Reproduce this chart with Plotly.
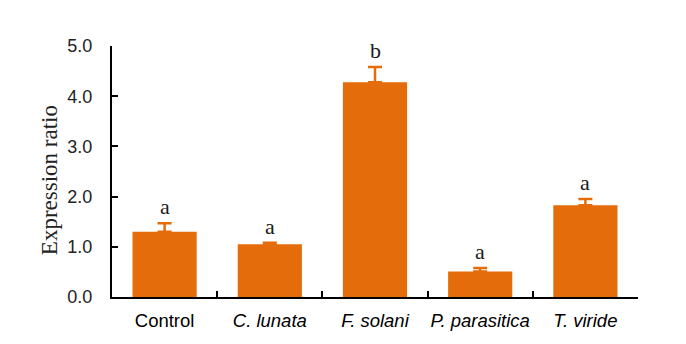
import plotly.graph_objects as go

categories = ["Control", "C. lunata", "F. solani", "P. parasitica", "T. viride"]
tick_labels = ["Control", "<i>C. lunata</i>", "<i>F. solani</i>", "<i>P. parasitica</i>", "<i>T. viride</i>"]
values = [1.30, 1.05, 4.28, 0.51, 1.83]
errors = [0.17, 0.03, 0.30, 0.07, 0.12]
letters = ["a", "a", "b", "a", "a"]
y_ticks = [0, 1, 2, 3, 4, 5]

orange = "#E46C0A"

fig = go.Figure()
fig.add_trace(go.Bar(
    x=categories, y=values,
    marker=dict(color=orange, line=dict(width=0)),
    width=0.61,
    error_y=dict(type="data", array=errors, symmetric=False, arrayminus=[0]*len(errors),
                 color=orange, thickness=2.5, width=7),
))

for c, v, e, l in zip(categories, values, errors, letters):
    fig.add_annotation(x=c, y=v + e, text=l, showarrow=False, yanchor="bottom", yshift=2,
                       font=dict(family="Liberation Serif, Times New Roman, serif", size=22, color="#1a1a1a"))

# y-axis title placed as a rotated annotation
fig.add_annotation(x=-0.12, y=0.465, xref="paper", yref="paper", text="Expression ratio",
                   textangle=-90, showarrow=False, xanchor="center", yanchor="middle",
                   font=dict(family="Liberation Serif, Times New Roman, serif", size=23, color="#222"))

fig.update_layout(
    width=686, height=344,
    margin=dict(l=112, r=48, t=46, b=47),
    paper_bgcolor="white", plot_bgcolor="white",
    showlegend=False,
    xaxis=dict(
        tickmode="array", tickvals=categories, ticktext=tick_labels,
        tickson="boundaries", ticks="inside", ticklen=6, tickwidth=2, tickcolor="black",
        showline=True, linecolor="black", linewidth=2,
        showgrid=False, zeroline=False,
        tickangle=0, automargin=False,
        ticklabelstandoff=6,
        tickfont=dict(family="Liberation Sans, Arial, sans-serif", size=18.5, color="black"),
        range=[-0.5, 4.5],
    ),
    yaxis=dict(
        range=[0, 5], tickvals=y_ticks, tickformat=".1f",
        ticks="inside", ticklen=6, tickwidth=2, tickcolor="black",
        showline=True, linecolor="black", linewidth=2,
        showgrid=False, zeroline=False,
        automargin=False,
        ticklabelstandoff=14,
        tickfont=dict(family="Liberation Sans, Arial, sans-serif", size=18, color="#222"),
    ),
)

fig.write_html("out.html")
